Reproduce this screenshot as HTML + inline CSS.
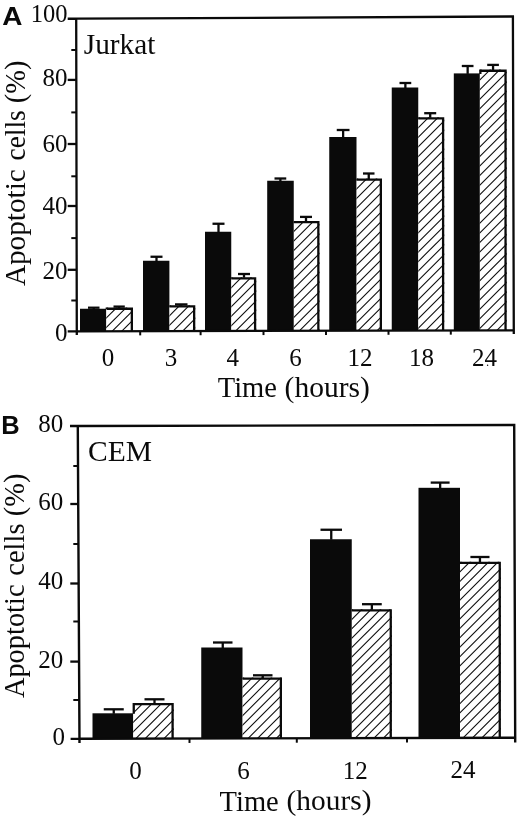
<!DOCTYPE html>
<html><head><meta charset="utf-8"><title>Figure</title>
<style>html,body{margin:0;padding:0;background:#fff}svg{display:block}</style></head>
<body>
<svg width="520" height="818" viewBox="0 0 520 818">
<rect width="520" height="818" fill="#fff"/>
<rect x="80" y="308.75" width="26.25" height="22.48" fill="#0a0a0a"/>
<line x1="88" y1="307.7" x2="99.5" y2="307.7" stroke="#0a0a0a" stroke-width="2.3" stroke-linecap="butt"/>
<line x1="93.75" y1="307.7" x2="93.75" y2="309.25" stroke="#0a0a0a" stroke-width="2.3" stroke-linecap="butt"/>
<clipPath id="c1"><rect x="106.25" y="307.6" width="26.75" height="23.63"/></clipPath>
<g clip-path="url(#c1)">
<rect x="106.25" y="307.6" width="26.75" height="23.63" fill="#fff"/>
<line x1="104.25" y1="291.40" x2="135.00" y2="260.65" stroke="#0a0a0a" stroke-width="1.08"/>
<line x1="104.25" y1="300.95" x2="135.00" y2="270.20" stroke="#0a0a0a" stroke-width="1.08"/>
<line x1="104.25" y1="310.50" x2="135.00" y2="279.75" stroke="#0a0a0a" stroke-width="1.08"/>
<line x1="104.25" y1="320.05" x2="135.00" y2="289.30" stroke="#0a0a0a" stroke-width="1.08"/>
<line x1="104.25" y1="329.60" x2="135.00" y2="298.85" stroke="#0a0a0a" stroke-width="1.08"/>
<line x1="104.25" y1="339.15" x2="135.00" y2="308.40" stroke="#0a0a0a" stroke-width="1.08"/>
<line x1="104.25" y1="348.70" x2="135.00" y2="317.95" stroke="#0a0a0a" stroke-width="1.08"/>
<line x1="104.25" y1="358.25" x2="135.00" y2="327.50" stroke="#0a0a0a" stroke-width="1.08"/>
<line x1="104.25" y1="367.80" x2="135.00" y2="337.05" stroke="#0a0a0a" stroke-width="1.08"/>
</g>
<path d="M106.80 309.25 V308.75 H131.85 V331.23113703957904" fill="none" stroke="#0a0a0a" stroke-width="2.3"/>
<line x1="113.5" y1="306.6" x2="124.8" y2="306.6" stroke="#0a0a0a" stroke-width="2.3" stroke-linecap="butt"/>
<line x1="119.15" y1="306.6" x2="119.15" y2="308.1" stroke="#0a0a0a" stroke-width="2.3" stroke-linecap="butt"/>
<rect x="143" y="260.75" width="26.40" height="70.34" fill="#0a0a0a"/>
<line x1="150.5" y1="256.75" x2="162.5" y2="256.75" stroke="#0a0a0a" stroke-width="2.3" stroke-linecap="butt"/>
<line x1="156.5" y1="256.75" x2="156.5" y2="261.25" stroke="#0a0a0a" stroke-width="2.3" stroke-linecap="butt"/>
<clipPath id="c2"><rect x="169.4" y="305.3" width="25.90" height="25.79"/></clipPath>
<g clip-path="url(#c2)">
<rect x="169.4" y="305.3" width="25.90" height="25.79" fill="#fff"/>
<line x1="167.40" y1="289.10" x2="197.30" y2="259.20" stroke="#0a0a0a" stroke-width="1.08"/>
<line x1="167.40" y1="298.65" x2="197.30" y2="268.75" stroke="#0a0a0a" stroke-width="1.08"/>
<line x1="167.40" y1="308.20" x2="197.30" y2="278.30" stroke="#0a0a0a" stroke-width="1.08"/>
<line x1="167.40" y1="317.75" x2="197.30" y2="287.85" stroke="#0a0a0a" stroke-width="1.08"/>
<line x1="167.40" y1="327.30" x2="197.30" y2="297.40" stroke="#0a0a0a" stroke-width="1.08"/>
<line x1="167.40" y1="336.85" x2="197.30" y2="306.95" stroke="#0a0a0a" stroke-width="1.08"/>
<line x1="167.40" y1="346.40" x2="197.30" y2="316.50" stroke="#0a0a0a" stroke-width="1.08"/>
<line x1="167.40" y1="355.95" x2="197.30" y2="326.05" stroke="#0a0a0a" stroke-width="1.08"/>
<line x1="167.40" y1="365.50" x2="197.30" y2="335.60" stroke="#0a0a0a" stroke-width="1.08"/>
</g>
<path d="M169.4 306.45 H194.15 V331.08780599405173" fill="none" stroke="#0a0a0a" stroke-width="2.3"/>
<line x1="175" y1="304.4" x2="187.5" y2="304.4" stroke="#0a0a0a" stroke-width="2.3" stroke-linecap="butt"/>
<line x1="181.25" y1="304.4" x2="181.25" y2="305.8" stroke="#0a0a0a" stroke-width="2.3" stroke-linecap="butt"/>
<rect x="205" y="231.75" width="26.25" height="99.20" fill="#0a0a0a"/>
<line x1="212.5" y1="223.75" x2="224.5" y2="223.75" stroke="#0a0a0a" stroke-width="2.3" stroke-linecap="butt"/>
<line x1="218.5" y1="223.75" x2="218.5" y2="232.25" stroke="#0a0a0a" stroke-width="2.3" stroke-linecap="butt"/>
<clipPath id="c3"><rect x="231.25" y="277.2" width="25.00" height="53.75"/></clipPath>
<g clip-path="url(#c3)">
<rect x="231.25" y="277.2" width="25.00" height="53.75" fill="#fff"/>
<line x1="229.25" y1="261.00" x2="258.25" y2="232.00" stroke="#0a0a0a" stroke-width="1.08"/>
<line x1="229.25" y1="270.55" x2="258.25" y2="241.55" stroke="#0a0a0a" stroke-width="1.08"/>
<line x1="229.25" y1="280.10" x2="258.25" y2="251.10" stroke="#0a0a0a" stroke-width="1.08"/>
<line x1="229.25" y1="289.65" x2="258.25" y2="260.65" stroke="#0a0a0a" stroke-width="1.08"/>
<line x1="229.25" y1="299.20" x2="258.25" y2="270.20" stroke="#0a0a0a" stroke-width="1.08"/>
<line x1="229.25" y1="308.75" x2="258.25" y2="279.75" stroke="#0a0a0a" stroke-width="1.08"/>
<line x1="229.25" y1="318.30" x2="258.25" y2="289.30" stroke="#0a0a0a" stroke-width="1.08"/>
<line x1="229.25" y1="327.85" x2="258.25" y2="298.85" stroke="#0a0a0a" stroke-width="1.08"/>
<line x1="229.25" y1="337.40" x2="258.25" y2="308.40" stroke="#0a0a0a" stroke-width="1.08"/>
<line x1="229.25" y1="346.95" x2="258.25" y2="317.95" stroke="#0a0a0a" stroke-width="1.08"/>
<line x1="229.25" y1="356.50" x2="258.25" y2="327.50" stroke="#0a0a0a" stroke-width="1.08"/>
<line x1="229.25" y1="366.05" x2="258.25" y2="337.05" stroke="#0a0a0a" stroke-width="1.08"/>
</g>
<path d="M231.25 278.34999999999997 H255.1 V330.9471631205674" fill="none" stroke="#0a0a0a" stroke-width="2.3"/>
<line x1="238" y1="274" x2="250" y2="274" stroke="#0a0a0a" stroke-width="2.3" stroke-linecap="butt"/>
<line x1="244.0" y1="274" x2="244.0" y2="277.7" stroke="#0a0a0a" stroke-width="2.3" stroke-linecap="butt"/>
<rect x="267.2" y="180.75" width="26.55" height="150.05" fill="#0a0a0a"/>
<line x1="274.5" y1="178.5" x2="286.25" y2="178.5" stroke="#0a0a0a" stroke-width="2.3" stroke-linecap="butt"/>
<line x1="280.375" y1="178.5" x2="280.375" y2="181.25" stroke="#0a0a0a" stroke-width="2.3" stroke-linecap="butt"/>
<clipPath id="c4"><rect x="293.75" y="221.0" width="25.75" height="109.80"/></clipPath>
<g clip-path="url(#c4)">
<rect x="293.75" y="221.0" width="25.75" height="109.80" fill="#fff"/>
<line x1="291.75" y1="204.80" x2="321.50" y2="175.05" stroke="#0a0a0a" stroke-width="1.08"/>
<line x1="291.75" y1="214.35" x2="321.50" y2="184.60" stroke="#0a0a0a" stroke-width="1.08"/>
<line x1="291.75" y1="223.90" x2="321.50" y2="194.15" stroke="#0a0a0a" stroke-width="1.08"/>
<line x1="291.75" y1="233.45" x2="321.50" y2="203.70" stroke="#0a0a0a" stroke-width="1.08"/>
<line x1="291.75" y1="243.00" x2="321.50" y2="213.25" stroke="#0a0a0a" stroke-width="1.08"/>
<line x1="291.75" y1="252.55" x2="321.50" y2="222.80" stroke="#0a0a0a" stroke-width="1.08"/>
<line x1="291.75" y1="262.10" x2="321.50" y2="232.35" stroke="#0a0a0a" stroke-width="1.08"/>
<line x1="291.75" y1="271.65" x2="321.50" y2="241.90" stroke="#0a0a0a" stroke-width="1.08"/>
<line x1="291.75" y1="281.20" x2="321.50" y2="251.45" stroke="#0a0a0a" stroke-width="1.08"/>
<line x1="291.75" y1="290.75" x2="321.50" y2="261.00" stroke="#0a0a0a" stroke-width="1.08"/>
<line x1="291.75" y1="300.30" x2="321.50" y2="270.55" stroke="#0a0a0a" stroke-width="1.08"/>
<line x1="291.75" y1="309.85" x2="321.50" y2="280.10" stroke="#0a0a0a" stroke-width="1.08"/>
<line x1="291.75" y1="319.40" x2="321.50" y2="289.65" stroke="#0a0a0a" stroke-width="1.08"/>
<line x1="291.75" y1="328.95" x2="321.50" y2="299.20" stroke="#0a0a0a" stroke-width="1.08"/>
<line x1="291.75" y1="338.50" x2="321.50" y2="308.75" stroke="#0a0a0a" stroke-width="1.08"/>
<line x1="291.75" y1="348.05" x2="321.50" y2="318.30" stroke="#0a0a0a" stroke-width="1.08"/>
<line x1="291.75" y1="357.60" x2="321.50" y2="327.85" stroke="#0a0a0a" stroke-width="1.08"/>
<line x1="291.75" y1="367.15" x2="321.50" y2="337.40" stroke="#0a0a0a" stroke-width="1.08"/>
</g>
<path d="M293.75 222.15 H318.35 V330.80366048959047" fill="none" stroke="#0a0a0a" stroke-width="2.3"/>
<line x1="300" y1="216.9" x2="312" y2="216.9" stroke="#0a0a0a" stroke-width="2.3" stroke-linecap="butt"/>
<line x1="306.0" y1="216.9" x2="306.0" y2="221.5" stroke="#0a0a0a" stroke-width="2.3" stroke-linecap="butt"/>
<rect x="329.25" y="137" width="27.25" height="193.66" fill="#0a0a0a"/>
<line x1="336.75" y1="130" x2="349.5" y2="130" stroke="#0a0a0a" stroke-width="2.3" stroke-linecap="butt"/>
<line x1="343.125" y1="130" x2="343.125" y2="137.5" stroke="#0a0a0a" stroke-width="2.3" stroke-linecap="butt"/>
<clipPath id="c5"><rect x="356.5" y="178.5" width="25.50" height="152.16"/></clipPath>
<g clip-path="url(#c5)">
<rect x="356.5" y="178.5" width="25.50" height="152.16" fill="#fff"/>
<line x1="354.50" y1="162.30" x2="384.00" y2="132.80" stroke="#0a0a0a" stroke-width="1.08"/>
<line x1="354.50" y1="171.85" x2="384.00" y2="142.35" stroke="#0a0a0a" stroke-width="1.08"/>
<line x1="354.50" y1="181.40" x2="384.00" y2="151.90" stroke="#0a0a0a" stroke-width="1.08"/>
<line x1="354.50" y1="190.95" x2="384.00" y2="161.45" stroke="#0a0a0a" stroke-width="1.08"/>
<line x1="354.50" y1="200.50" x2="384.00" y2="171.00" stroke="#0a0a0a" stroke-width="1.08"/>
<line x1="354.50" y1="210.05" x2="384.00" y2="180.55" stroke="#0a0a0a" stroke-width="1.08"/>
<line x1="354.50" y1="219.60" x2="384.00" y2="190.10" stroke="#0a0a0a" stroke-width="1.08"/>
<line x1="354.50" y1="229.15" x2="384.00" y2="199.65" stroke="#0a0a0a" stroke-width="1.08"/>
<line x1="354.50" y1="238.70" x2="384.00" y2="209.20" stroke="#0a0a0a" stroke-width="1.08"/>
<line x1="354.50" y1="248.25" x2="384.00" y2="218.75" stroke="#0a0a0a" stroke-width="1.08"/>
<line x1="354.50" y1="257.80" x2="384.00" y2="228.30" stroke="#0a0a0a" stroke-width="1.08"/>
<line x1="354.50" y1="267.35" x2="384.00" y2="237.85" stroke="#0a0a0a" stroke-width="1.08"/>
<line x1="354.50" y1="276.90" x2="384.00" y2="247.40" stroke="#0a0a0a" stroke-width="1.08"/>
<line x1="354.50" y1="286.45" x2="384.00" y2="256.95" stroke="#0a0a0a" stroke-width="1.08"/>
<line x1="354.50" y1="296.00" x2="384.00" y2="266.50" stroke="#0a0a0a" stroke-width="1.08"/>
<line x1="354.50" y1="305.55" x2="384.00" y2="276.05" stroke="#0a0a0a" stroke-width="1.08"/>
<line x1="354.50" y1="315.10" x2="384.00" y2="285.60" stroke="#0a0a0a" stroke-width="1.08"/>
<line x1="354.50" y1="324.65" x2="384.00" y2="295.15" stroke="#0a0a0a" stroke-width="1.08"/>
<line x1="354.50" y1="334.20" x2="384.00" y2="304.70" stroke="#0a0a0a" stroke-width="1.08"/>
<line x1="354.50" y1="343.75" x2="384.00" y2="314.25" stroke="#0a0a0a" stroke-width="1.08"/>
<line x1="354.50" y1="353.30" x2="384.00" y2="323.80" stroke="#0a0a0a" stroke-width="1.08"/>
<line x1="354.50" y1="362.85" x2="384.00" y2="333.35" stroke="#0a0a0a" stroke-width="1.08"/>
</g>
<path d="M356.5 179.65 H380.85 V330.6611873713109" fill="none" stroke="#0a0a0a" stroke-width="2.3"/>
<line x1="363" y1="173.5" x2="374.5" y2="173.5" stroke="#0a0a0a" stroke-width="2.3" stroke-linecap="butt"/>
<line x1="368.75" y1="173.5" x2="368.75" y2="179.0" stroke="#0a0a0a" stroke-width="2.3" stroke-linecap="butt"/>
<rect x="391.75" y="87.5" width="26.50" height="243.02" fill="#0a0a0a"/>
<line x1="399.5" y1="83" x2="411.25" y2="83" stroke="#0a0a0a" stroke-width="2.3" stroke-linecap="butt"/>
<line x1="405.375" y1="83" x2="405.375" y2="88.0" stroke="#0a0a0a" stroke-width="2.3" stroke-linecap="butt"/>
<clipPath id="c6"><rect x="418.25" y="117.3" width="26.00" height="213.22"/></clipPath>
<g clip-path="url(#c6)">
<rect x="418.25" y="117.3" width="26.00" height="213.22" fill="#fff"/>
<line x1="416.25" y1="101.10" x2="446.25" y2="71.10" stroke="#0a0a0a" stroke-width="1.08"/>
<line x1="416.25" y1="110.65" x2="446.25" y2="80.65" stroke="#0a0a0a" stroke-width="1.08"/>
<line x1="416.25" y1="120.20" x2="446.25" y2="90.20" stroke="#0a0a0a" stroke-width="1.08"/>
<line x1="416.25" y1="129.75" x2="446.25" y2="99.75" stroke="#0a0a0a" stroke-width="1.08"/>
<line x1="416.25" y1="139.30" x2="446.25" y2="109.30" stroke="#0a0a0a" stroke-width="1.08"/>
<line x1="416.25" y1="148.85" x2="446.25" y2="118.85" stroke="#0a0a0a" stroke-width="1.08"/>
<line x1="416.25" y1="158.40" x2="446.25" y2="128.40" stroke="#0a0a0a" stroke-width="1.08"/>
<line x1="416.25" y1="167.95" x2="446.25" y2="137.95" stroke="#0a0a0a" stroke-width="1.08"/>
<line x1="416.25" y1="177.50" x2="446.25" y2="147.50" stroke="#0a0a0a" stroke-width="1.08"/>
<line x1="416.25" y1="187.05" x2="446.25" y2="157.05" stroke="#0a0a0a" stroke-width="1.08"/>
<line x1="416.25" y1="196.60" x2="446.25" y2="166.60" stroke="#0a0a0a" stroke-width="1.08"/>
<line x1="416.25" y1="206.15" x2="446.25" y2="176.15" stroke="#0a0a0a" stroke-width="1.08"/>
<line x1="416.25" y1="215.70" x2="446.25" y2="185.70" stroke="#0a0a0a" stroke-width="1.08"/>
<line x1="416.25" y1="225.25" x2="446.25" y2="195.25" stroke="#0a0a0a" stroke-width="1.08"/>
<line x1="416.25" y1="234.80" x2="446.25" y2="204.80" stroke="#0a0a0a" stroke-width="1.08"/>
<line x1="416.25" y1="244.35" x2="446.25" y2="214.35" stroke="#0a0a0a" stroke-width="1.08"/>
<line x1="416.25" y1="253.90" x2="446.25" y2="223.90" stroke="#0a0a0a" stroke-width="1.08"/>
<line x1="416.25" y1="263.45" x2="446.25" y2="233.45" stroke="#0a0a0a" stroke-width="1.08"/>
<line x1="416.25" y1="273.00" x2="446.25" y2="243.00" stroke="#0a0a0a" stroke-width="1.08"/>
<line x1="416.25" y1="282.55" x2="446.25" y2="252.55" stroke="#0a0a0a" stroke-width="1.08"/>
<line x1="416.25" y1="292.10" x2="446.25" y2="262.10" stroke="#0a0a0a" stroke-width="1.08"/>
<line x1="416.25" y1="301.65" x2="446.25" y2="271.65" stroke="#0a0a0a" stroke-width="1.08"/>
<line x1="416.25" y1="311.20" x2="446.25" y2="281.20" stroke="#0a0a0a" stroke-width="1.08"/>
<line x1="416.25" y1="320.75" x2="446.25" y2="290.75" stroke="#0a0a0a" stroke-width="1.08"/>
<line x1="416.25" y1="330.30" x2="446.25" y2="300.30" stroke="#0a0a0a" stroke-width="1.08"/>
<line x1="416.25" y1="339.85" x2="446.25" y2="309.85" stroke="#0a0a0a" stroke-width="1.08"/>
<line x1="416.25" y1="349.40" x2="446.25" y2="319.40" stroke="#0a0a0a" stroke-width="1.08"/>
<line x1="416.25" y1="358.95" x2="446.25" y2="328.95" stroke="#0a0a0a" stroke-width="1.08"/>
</g>
<path d="M418.25 118.45 H443.1 V330.51848547243196" fill="none" stroke="#0a0a0a" stroke-width="2.3"/>
<line x1="424.2" y1="113.2" x2="436.2" y2="113.2" stroke="#0a0a0a" stroke-width="2.3" stroke-linecap="butt"/>
<line x1="430.2" y1="113.2" x2="430.2" y2="117.8" stroke="#0a0a0a" stroke-width="2.3" stroke-linecap="butt"/>
<rect x="453.8" y="73.4" width="26.00" height="256.98" fill="#0a0a0a"/>
<line x1="461.8" y1="66" x2="473.5" y2="66" stroke="#0a0a0a" stroke-width="2.3" stroke-linecap="butt"/>
<line x1="467.65" y1="66" x2="467.65" y2="73.9" stroke="#0a0a0a" stroke-width="2.3" stroke-linecap="butt"/>
<clipPath id="c7"><rect x="479.8" y="69.6" width="26.90" height="260.78"/></clipPath>
<g clip-path="url(#c7)">
<rect x="479.8" y="69.6" width="26.90" height="260.78" fill="#fff"/>
<line x1="477.80" y1="53.40" x2="508.70" y2="22.50" stroke="#0a0a0a" stroke-width="1.08"/>
<line x1="477.80" y1="62.95" x2="508.70" y2="32.05" stroke="#0a0a0a" stroke-width="1.08"/>
<line x1="477.80" y1="72.50" x2="508.70" y2="41.60" stroke="#0a0a0a" stroke-width="1.08"/>
<line x1="477.80" y1="82.05" x2="508.70" y2="51.15" stroke="#0a0a0a" stroke-width="1.08"/>
<line x1="477.80" y1="91.60" x2="508.70" y2="60.70" stroke="#0a0a0a" stroke-width="1.08"/>
<line x1="477.80" y1="101.15" x2="508.70" y2="70.25" stroke="#0a0a0a" stroke-width="1.08"/>
<line x1="477.80" y1="110.70" x2="508.70" y2="79.80" stroke="#0a0a0a" stroke-width="1.08"/>
<line x1="477.80" y1="120.25" x2="508.70" y2="89.35" stroke="#0a0a0a" stroke-width="1.08"/>
<line x1="477.80" y1="129.80" x2="508.70" y2="98.90" stroke="#0a0a0a" stroke-width="1.08"/>
<line x1="477.80" y1="139.35" x2="508.70" y2="108.45" stroke="#0a0a0a" stroke-width="1.08"/>
<line x1="477.80" y1="148.90" x2="508.70" y2="118.00" stroke="#0a0a0a" stroke-width="1.08"/>
<line x1="477.80" y1="158.45" x2="508.70" y2="127.55" stroke="#0a0a0a" stroke-width="1.08"/>
<line x1="477.80" y1="168.00" x2="508.70" y2="137.10" stroke="#0a0a0a" stroke-width="1.08"/>
<line x1="477.80" y1="177.55" x2="508.70" y2="146.65" stroke="#0a0a0a" stroke-width="1.08"/>
<line x1="477.80" y1="187.10" x2="508.70" y2="156.20" stroke="#0a0a0a" stroke-width="1.08"/>
<line x1="477.80" y1="196.65" x2="508.70" y2="165.75" stroke="#0a0a0a" stroke-width="1.08"/>
<line x1="477.80" y1="206.20" x2="508.70" y2="175.30" stroke="#0a0a0a" stroke-width="1.08"/>
<line x1="477.80" y1="215.75" x2="508.70" y2="184.85" stroke="#0a0a0a" stroke-width="1.08"/>
<line x1="477.80" y1="225.30" x2="508.70" y2="194.40" stroke="#0a0a0a" stroke-width="1.08"/>
<line x1="477.80" y1="234.85" x2="508.70" y2="203.95" stroke="#0a0a0a" stroke-width="1.08"/>
<line x1="477.80" y1="244.40" x2="508.70" y2="213.50" stroke="#0a0a0a" stroke-width="1.08"/>
<line x1="477.80" y1="253.95" x2="508.70" y2="223.05" stroke="#0a0a0a" stroke-width="1.08"/>
<line x1="477.80" y1="263.50" x2="508.70" y2="232.60" stroke="#0a0a0a" stroke-width="1.08"/>
<line x1="477.80" y1="273.05" x2="508.70" y2="242.15" stroke="#0a0a0a" stroke-width="1.08"/>
<line x1="477.80" y1="282.60" x2="508.70" y2="251.70" stroke="#0a0a0a" stroke-width="1.08"/>
<line x1="477.80" y1="292.15" x2="508.70" y2="261.25" stroke="#0a0a0a" stroke-width="1.08"/>
<line x1="477.80" y1="301.70" x2="508.70" y2="270.80" stroke="#0a0a0a" stroke-width="1.08"/>
<line x1="477.80" y1="311.25" x2="508.70" y2="280.35" stroke="#0a0a0a" stroke-width="1.08"/>
<line x1="477.80" y1="320.80" x2="508.70" y2="289.90" stroke="#0a0a0a" stroke-width="1.08"/>
<line x1="477.80" y1="330.35" x2="508.70" y2="299.45" stroke="#0a0a0a" stroke-width="1.08"/>
<line x1="477.80" y1="339.90" x2="508.70" y2="309.00" stroke="#0a0a0a" stroke-width="1.08"/>
<line x1="477.80" y1="349.45" x2="508.70" y2="318.55" stroke="#0a0a0a" stroke-width="1.08"/>
<line x1="477.80" y1="359.00" x2="508.70" y2="328.10" stroke="#0a0a0a" stroke-width="1.08"/>
<line x1="477.80" y1="368.55" x2="508.70" y2="337.65" stroke="#0a0a0a" stroke-width="1.08"/>
</g>
<path d="M480.35 73.90 V70.75 H505.55 V330.37606954930226" fill="none" stroke="#0a0a0a" stroke-width="2.3"/>
<line x1="487.2" y1="64.9" x2="498.9" y2="64.9" stroke="#0a0a0a" stroke-width="2.3" stroke-linecap="butt"/>
<line x1="493.04999999999995" y1="64.9" x2="493.04999999999995" y2="70.1" stroke="#0a0a0a" stroke-width="2.3" stroke-linecap="butt"/>
<path d="M67.7 18.75 L76.8 18.7 L512.9 16.5 L513.8 334 M67.7 331.35 L76.8 331.3 L513.8 330.3 M76.2 18.7 L76.8 335" fill="none" stroke="#0a0a0a" stroke-width="2.3"/>
<line x1="67.7" y1="79.9" x2="76.6" y2="79.9" stroke="#0a0a0a" stroke-width="2.3" stroke-linecap="butt"/>
<line x1="67.7" y1="144.0" x2="76.6" y2="144.0" stroke="#0a0a0a" stroke-width="2.3" stroke-linecap="butt"/>
<line x1="67.7" y1="206.0" x2="76.6" y2="206.0" stroke="#0a0a0a" stroke-width="2.3" stroke-linecap="butt"/>
<line x1="67.7" y1="269.8" x2="76.6" y2="269.8" stroke="#0a0a0a" stroke-width="2.3" stroke-linecap="butt"/>
<line x1="71.3" y1="50" x2="76.6" y2="50" stroke="#0a0a0a" stroke-width="2.0" stroke-linecap="butt"/>
<line x1="71.3" y1="112.4" x2="76.6" y2="112.4" stroke="#0a0a0a" stroke-width="2.0" stroke-linecap="butt"/>
<line x1="71.3" y1="176.3" x2="76.6" y2="176.3" stroke="#0a0a0a" stroke-width="2.0" stroke-linecap="butt"/>
<line x1="71.3" y1="238.1" x2="76.6" y2="238.1" stroke="#0a0a0a" stroke-width="2.0" stroke-linecap="butt"/>
<line x1="71.3" y1="300.5" x2="76.6" y2="300.5" stroke="#0a0a0a" stroke-width="2.0" stroke-linecap="butt"/>
<line x1="140.2" y1="331.1540379775795" x2="140.2" y2="335.3540379775795" stroke="#0a0a0a" stroke-width="2.0" stroke-linecap="butt"/>
<line x1="200.6" y1="331.0158544955388" x2="200.6" y2="335.2158544955388" stroke="#0a0a0a" stroke-width="2.0" stroke-linecap="butt"/>
<line x1="263.5" y1="330.87195149851294" x2="263.5" y2="335.07195149851293" stroke="#0a0a0a" stroke-width="2.0" stroke-linecap="butt"/>
<line x1="326" y1="330.7289636238847" x2="326" y2="334.92896362388467" stroke="#0a0a0a" stroke-width="2.0" stroke-linecap="butt"/>
<line x1="388.5" y1="330.5859757492565" x2="388.5" y2="334.78597574925647" stroke="#0a0a0a" stroke-width="2.0" stroke-linecap="butt"/>
<line x1="450.8" y1="330.4434454358271" x2="450.8" y2="334.64344543582706" stroke="#0a0a0a" stroke-width="2.0" stroke-linecap="butt"/>
<text x="67.6" y="22.4" font-size="24.5" text-anchor="end" font-family='"Liberation Serif", serif' font-weight="normal" fill="#0a0a0a" >100</text>
<text x="67.6" y="85.7" font-size="25" text-anchor="end" font-family='"Liberation Serif", serif' font-weight="normal" fill="#0a0a0a" >80</text>
<text x="67.6" y="151.5" font-size="25" text-anchor="end" font-family='"Liberation Serif", serif' font-weight="normal" fill="#0a0a0a" >60</text>
<text x="67.6" y="214.2" font-size="25" text-anchor="end" font-family='"Liberation Serif", serif' font-weight="normal" fill="#0a0a0a" >40</text>
<text x="67.6" y="278.5" font-size="25" text-anchor="end" font-family='"Liberation Serif", serif' font-weight="normal" fill="#0a0a0a" >20</text>
<text x="67.6" y="341.2" font-size="25" text-anchor="end" font-family='"Liberation Serif", serif' font-weight="normal" fill="#0a0a0a" >0</text>
<text x="108.1" y="366.3" font-size="25" text-anchor="middle" font-family='"Liberation Serif", serif' font-weight="normal" fill="#0a0a0a" >0</text>
<text x="171" y="366.2" font-size="25" text-anchor="middle" font-family='"Liberation Serif", serif' font-weight="normal" fill="#0a0a0a" >3</text>
<text x="232.7" y="366.1" font-size="25" text-anchor="middle" font-family='"Liberation Serif", serif' font-weight="normal" fill="#0a0a0a" >4</text>
<text x="295.4" y="366.2" font-size="25" text-anchor="middle" font-family='"Liberation Serif", serif' font-weight="normal" fill="#0a0a0a" >6</text>
<text x="360" y="366.2" font-size="25" text-anchor="middle" font-family='"Liberation Serif", serif' font-weight="normal" fill="#0a0a0a" >12</text>
<text x="421.4" y="366.1" font-size="25" text-anchor="middle" font-family='"Liberation Serif", serif' font-weight="normal" fill="#0a0a0a" >18</text>
<text x="484.6" y="365.6" font-size="25" text-anchor="middle" font-family='"Liberation Serif", serif' font-weight="normal" fill="#0a0a0a" >24</text>
<circle cx="487.6" cy="365.2" r="0.7" fill="#0a0a0a"/>
<text x="83.8" y="53.8" font-size="28.5" text-anchor="start" font-family='"Liberation Serif", serif' font-weight="normal" fill="#0a0a0a" textLength="71.6" lengthAdjust="spacingAndGlyphs">Jurkat</text>
<text x="217.8" y="397.1" font-size="28.5" text-anchor="start" font-family='"Liberation Serif", serif' font-weight="normal" fill="#0a0a0a" >Time</text>
<text x="284.6" y="397.0" font-size="28.5" text-anchor="start" font-family='"Liberation Serif", serif' font-weight="normal" fill="#0a0a0a" textLength="85.2" lengthAdjust="spacingAndGlyphs">(hours)</text>
<g transform="translate(24.8 286.1) rotate(-90)" font-size="28.5" font-family='"Liberation Serif", serif' fill="#0a0a0a">
<text x="0" y="0" textLength="116.9" lengthAdjust="spacingAndGlyphs">Apoptotic</text>
<text x="125.7" y="0" textLength="50.0" lengthAdjust="spacingAndGlyphs">cells</text>
<text x="182.8" y="0">(%)</text>
</g>
<text x="2.2" y="24.6" font-size="26" text-anchor="start" font-family='"Liberation Sans", sans-serif' font-weight="bold" fill="#0a0a0a" textLength="20.2" lengthAdjust="spacingAndGlyphs">A</text>
<rect x="92.5" y="713.3" width="40.70" height="25.38" fill="#0a0a0a"/>
<line x1="103.75" y1="709.3" x2="123.75" y2="709.3" stroke="#0a0a0a" stroke-width="2.3" stroke-linecap="butt"/>
<line x1="113.75" y1="709.3" x2="113.75" y2="713.8" stroke="#0a0a0a" stroke-width="2.3" stroke-linecap="butt"/>
<clipPath id="c8"><rect x="133.2" y="702.9" width="40.55" height="35.78"/></clipPath>
<g clip-path="url(#c8)">
<rect x="133.2" y="702.9" width="40.55" height="35.78" fill="#fff"/>
<line x1="131.20" y1="686.80" x2="175.75" y2="642.25" stroke="#0a0a0a" stroke-width="1.08"/>
<line x1="131.20" y1="696.20" x2="175.75" y2="651.65" stroke="#0a0a0a" stroke-width="1.08"/>
<line x1="131.20" y1="705.60" x2="175.75" y2="661.05" stroke="#0a0a0a" stroke-width="1.08"/>
<line x1="131.20" y1="715.00" x2="175.75" y2="670.45" stroke="#0a0a0a" stroke-width="1.08"/>
<line x1="131.20" y1="724.40" x2="175.75" y2="679.85" stroke="#0a0a0a" stroke-width="1.08"/>
<line x1="131.20" y1="733.80" x2="175.75" y2="689.25" stroke="#0a0a0a" stroke-width="1.08"/>
<line x1="131.20" y1="743.20" x2="175.75" y2="698.65" stroke="#0a0a0a" stroke-width="1.08"/>
<line x1="131.20" y1="752.60" x2="175.75" y2="708.05" stroke="#0a0a0a" stroke-width="1.08"/>
<line x1="131.20" y1="762.00" x2="175.75" y2="717.45" stroke="#0a0a0a" stroke-width="1.08"/>
<line x1="131.20" y1="771.40" x2="175.75" y2="726.85" stroke="#0a0a0a" stroke-width="1.08"/>
<line x1="131.20" y1="780.80" x2="175.75" y2="736.25" stroke="#0a0a0a" stroke-width="1.08"/>
<line x1="131.20" y1="790.20" x2="175.75" y2="745.65" stroke="#0a0a0a" stroke-width="1.08"/>
</g>
<path d="M133.75 713.80 V704.05 H172.6 V738.6769221941703" fill="none" stroke="#0a0a0a" stroke-width="2.3"/>
<line x1="144.5" y1="699.3" x2="164.5" y2="699.3" stroke="#0a0a0a" stroke-width="2.3" stroke-linecap="butt"/>
<line x1="154.5" y1="699.3" x2="154.5" y2="703.4" stroke="#0a0a0a" stroke-width="2.3" stroke-linecap="butt"/>
<rect x="201.25" y="647.5" width="41.25" height="90.93" fill="#0a0a0a"/>
<line x1="213" y1="642.5" x2="232.5" y2="642.5" stroke="#0a0a0a" stroke-width="2.3" stroke-linecap="butt"/>
<line x1="222.75" y1="642.5" x2="222.75" y2="648.0" stroke="#0a0a0a" stroke-width="2.3" stroke-linecap="butt"/>
<clipPath id="c9"><rect x="242.5" y="677.5" width="39.50" height="60.93"/></clipPath>
<g clip-path="url(#c9)">
<rect x="242.5" y="677.5" width="39.50" height="60.93" fill="#fff"/>
<line x1="240.50" y1="661.40" x2="284.00" y2="617.90" stroke="#0a0a0a" stroke-width="1.08"/>
<line x1="240.50" y1="670.80" x2="284.00" y2="627.30" stroke="#0a0a0a" stroke-width="1.08"/>
<line x1="240.50" y1="680.20" x2="284.00" y2="636.70" stroke="#0a0a0a" stroke-width="1.08"/>
<line x1="240.50" y1="689.60" x2="284.00" y2="646.10" stroke="#0a0a0a" stroke-width="1.08"/>
<line x1="240.50" y1="699.00" x2="284.00" y2="655.50" stroke="#0a0a0a" stroke-width="1.08"/>
<line x1="240.50" y1="708.40" x2="284.00" y2="664.90" stroke="#0a0a0a" stroke-width="1.08"/>
<line x1="240.50" y1="717.80" x2="284.00" y2="674.30" stroke="#0a0a0a" stroke-width="1.08"/>
<line x1="240.50" y1="727.20" x2="284.00" y2="683.70" stroke="#0a0a0a" stroke-width="1.08"/>
<line x1="240.50" y1="736.60" x2="284.00" y2="693.10" stroke="#0a0a0a" stroke-width="1.08"/>
<line x1="240.50" y1="746.00" x2="284.00" y2="702.50" stroke="#0a0a0a" stroke-width="1.08"/>
<line x1="240.50" y1="755.40" x2="284.00" y2="711.90" stroke="#0a0a0a" stroke-width="1.08"/>
<line x1="240.50" y1="764.80" x2="284.00" y2="721.30" stroke="#0a0a0a" stroke-width="1.08"/>
<line x1="240.50" y1="774.20" x2="284.00" y2="730.70" stroke="#0a0a0a" stroke-width="1.08"/>
<line x1="240.50" y1="783.60" x2="284.00" y2="740.10" stroke="#0a0a0a" stroke-width="1.08"/>
</g>
<path d="M242.5 678.65 H280.85 V738.4278976359881" fill="none" stroke="#0a0a0a" stroke-width="2.3"/>
<line x1="253" y1="675.3" x2="272.5" y2="675.3" stroke="#0a0a0a" stroke-width="2.3" stroke-linecap="butt"/>
<line x1="262.75" y1="675.3" x2="262.75" y2="678.0" stroke="#0a0a0a" stroke-width="2.3" stroke-linecap="butt"/>
<rect x="310" y="539.25" width="41.75" height="198.93" fill="#0a0a0a"/>
<line x1="320.5" y1="529.75" x2="342" y2="529.75" stroke="#0a0a0a" stroke-width="2.3" stroke-linecap="butt"/>
<line x1="331.25" y1="529.75" x2="331.25" y2="539.75" stroke="#0a0a0a" stroke-width="2.3" stroke-linecap="butt"/>
<clipPath id="c10"><rect x="351.75" y="609.3" width="40.15" height="128.88"/></clipPath>
<g clip-path="url(#c10)">
<rect x="351.75" y="609.3" width="40.15" height="128.88" fill="#fff"/>
<line x1="349.75" y1="593.20" x2="393.90" y2="549.05" stroke="#0a0a0a" stroke-width="1.08"/>
<line x1="349.75" y1="602.60" x2="393.90" y2="558.45" stroke="#0a0a0a" stroke-width="1.08"/>
<line x1="349.75" y1="612.00" x2="393.90" y2="567.85" stroke="#0a0a0a" stroke-width="1.08"/>
<line x1="349.75" y1="621.40" x2="393.90" y2="577.25" stroke="#0a0a0a" stroke-width="1.08"/>
<line x1="349.75" y1="630.80" x2="393.90" y2="586.65" stroke="#0a0a0a" stroke-width="1.08"/>
<line x1="349.75" y1="640.20" x2="393.90" y2="596.05" stroke="#0a0a0a" stroke-width="1.08"/>
<line x1="349.75" y1="649.60" x2="393.90" y2="605.45" stroke="#0a0a0a" stroke-width="1.08"/>
<line x1="349.75" y1="659.00" x2="393.90" y2="614.85" stroke="#0a0a0a" stroke-width="1.08"/>
<line x1="349.75" y1="668.40" x2="393.90" y2="624.25" stroke="#0a0a0a" stroke-width="1.08"/>
<line x1="349.75" y1="677.80" x2="393.90" y2="633.65" stroke="#0a0a0a" stroke-width="1.08"/>
<line x1="349.75" y1="687.20" x2="393.90" y2="643.05" stroke="#0a0a0a" stroke-width="1.08"/>
<line x1="349.75" y1="696.60" x2="393.90" y2="652.45" stroke="#0a0a0a" stroke-width="1.08"/>
<line x1="349.75" y1="706.00" x2="393.90" y2="661.85" stroke="#0a0a0a" stroke-width="1.08"/>
<line x1="349.75" y1="715.40" x2="393.90" y2="671.25" stroke="#0a0a0a" stroke-width="1.08"/>
<line x1="349.75" y1="724.80" x2="393.90" y2="680.65" stroke="#0a0a0a" stroke-width="1.08"/>
<line x1="349.75" y1="734.20" x2="393.90" y2="690.05" stroke="#0a0a0a" stroke-width="1.08"/>
<line x1="349.75" y1="743.60" x2="393.90" y2="699.45" stroke="#0a0a0a" stroke-width="1.08"/>
<line x1="349.75" y1="753.00" x2="393.90" y2="708.85" stroke="#0a0a0a" stroke-width="1.08"/>
<line x1="349.75" y1="762.40" x2="393.90" y2="718.25" stroke="#0a0a0a" stroke-width="1.08"/>
<line x1="349.75" y1="771.80" x2="393.90" y2="727.65" stroke="#0a0a0a" stroke-width="1.08"/>
<line x1="349.75" y1="781.20" x2="393.90" y2="737.05" stroke="#0a0a0a" stroke-width="1.08"/>
</g>
<path d="M351.75 610.4499999999999 H390.75 V738.1769795731008" fill="none" stroke="#0a0a0a" stroke-width="2.3"/>
<line x1="362" y1="604.2" x2="381.75" y2="604.2" stroke="#0a0a0a" stroke-width="2.3" stroke-linecap="butt"/>
<line x1="371.875" y1="604.2" x2="371.875" y2="609.8" stroke="#0a0a0a" stroke-width="2.3" stroke-linecap="butt"/>
<rect x="418.5" y="487.8" width="41.50" height="250.13" fill="#0a0a0a"/>
<line x1="430.7" y1="482.6" x2="449.6" y2="482.6" stroke="#0a0a0a" stroke-width="2.3" stroke-linecap="butt"/>
<line x1="440.15" y1="482.6" x2="440.15" y2="488.3" stroke="#0a0a0a" stroke-width="2.3" stroke-linecap="butt"/>
<clipPath id="c11"><rect x="460" y="561.7" width="40.90" height="176.23"/></clipPath>
<g clip-path="url(#c11)">
<rect x="460" y="561.7" width="40.90" height="176.23" fill="#fff"/>
<line x1="458.00" y1="545.60" x2="502.90" y2="500.70" stroke="#0a0a0a" stroke-width="1.08"/>
<line x1="458.00" y1="555.00" x2="502.90" y2="510.10" stroke="#0a0a0a" stroke-width="1.08"/>
<line x1="458.00" y1="564.40" x2="502.90" y2="519.50" stroke="#0a0a0a" stroke-width="1.08"/>
<line x1="458.00" y1="573.80" x2="502.90" y2="528.90" stroke="#0a0a0a" stroke-width="1.08"/>
<line x1="458.00" y1="583.20" x2="502.90" y2="538.30" stroke="#0a0a0a" stroke-width="1.08"/>
<line x1="458.00" y1="592.60" x2="502.90" y2="547.70" stroke="#0a0a0a" stroke-width="1.08"/>
<line x1="458.00" y1="602.00" x2="502.90" y2="557.10" stroke="#0a0a0a" stroke-width="1.08"/>
<line x1="458.00" y1="611.40" x2="502.90" y2="566.50" stroke="#0a0a0a" stroke-width="1.08"/>
<line x1="458.00" y1="620.80" x2="502.90" y2="575.90" stroke="#0a0a0a" stroke-width="1.08"/>
<line x1="458.00" y1="630.20" x2="502.90" y2="585.30" stroke="#0a0a0a" stroke-width="1.08"/>
<line x1="458.00" y1="639.60" x2="502.90" y2="594.70" stroke="#0a0a0a" stroke-width="1.08"/>
<line x1="458.00" y1="649.00" x2="502.90" y2="604.10" stroke="#0a0a0a" stroke-width="1.08"/>
<line x1="458.00" y1="658.40" x2="502.90" y2="613.50" stroke="#0a0a0a" stroke-width="1.08"/>
<line x1="458.00" y1="667.80" x2="502.90" y2="622.90" stroke="#0a0a0a" stroke-width="1.08"/>
<line x1="458.00" y1="677.20" x2="502.90" y2="632.30" stroke="#0a0a0a" stroke-width="1.08"/>
<line x1="458.00" y1="686.60" x2="502.90" y2="641.70" stroke="#0a0a0a" stroke-width="1.08"/>
<line x1="458.00" y1="696.00" x2="502.90" y2="651.10" stroke="#0a0a0a" stroke-width="1.08"/>
<line x1="458.00" y1="705.40" x2="502.90" y2="660.50" stroke="#0a0a0a" stroke-width="1.08"/>
<line x1="458.00" y1="714.80" x2="502.90" y2="669.90" stroke="#0a0a0a" stroke-width="1.08"/>
<line x1="458.00" y1="724.20" x2="502.90" y2="679.30" stroke="#0a0a0a" stroke-width="1.08"/>
<line x1="458.00" y1="733.60" x2="502.90" y2="688.70" stroke="#0a0a0a" stroke-width="1.08"/>
<line x1="458.00" y1="743.00" x2="502.90" y2="698.10" stroke="#0a0a0a" stroke-width="1.08"/>
<line x1="458.00" y1="752.40" x2="502.90" y2="707.50" stroke="#0a0a0a" stroke-width="1.08"/>
<line x1="458.00" y1="761.80" x2="502.90" y2="716.90" stroke="#0a0a0a" stroke-width="1.08"/>
<line x1="458.00" y1="771.20" x2="502.90" y2="726.30" stroke="#0a0a0a" stroke-width="1.08"/>
<line x1="458.00" y1="780.60" x2="502.90" y2="735.70" stroke="#0a0a0a" stroke-width="1.08"/>
<line x1="458.00" y1="790.00" x2="502.90" y2="745.10" stroke="#0a0a0a" stroke-width="1.08"/>
</g>
<path d="M460 562.85 H499.75 V737.9273812256139" fill="none" stroke="#0a0a0a" stroke-width="2.3"/>
<line x1="470.4" y1="557" x2="489.5" y2="557" stroke="#0a0a0a" stroke-width="2.3" stroke-linecap="butt"/>
<line x1="479.95" y1="557" x2="479.95" y2="562.2" stroke="#0a0a0a" stroke-width="2.3" stroke-linecap="butt"/>
<path d="M70 426.05 L77.8 426 L514.2 425 L515.2 742.6 M70.6 738.85 L79.5 738.8 L516.4 737.8 M77.8 426 L79.5 743" fill="none" stroke="#0a0a0a" stroke-width="2.4"/>
<line x1="70.3" y1="504" x2="79" y2="504" stroke="#0a0a0a" stroke-width="2.3" stroke-linecap="butt"/>
<line x1="70.3" y1="583.5" x2="79" y2="583.5" stroke="#0a0a0a" stroke-width="2.3" stroke-linecap="butt"/>
<line x1="70.3" y1="661.6" x2="79" y2="661.6" stroke="#0a0a0a" stroke-width="2.3" stroke-linecap="butt"/>
<line x1="73.3" y1="466" x2="79" y2="466" stroke="#0a0a0a" stroke-width="2.0" stroke-linecap="butt"/>
<line x1="73.3" y1="544" x2="79" y2="544" stroke="#0a0a0a" stroke-width="2.0" stroke-linecap="butt"/>
<line x1="73.3" y1="621.5" x2="79" y2="621.5" stroke="#0a0a0a" stroke-width="2.0" stroke-linecap="butt"/>
<line x1="73.3" y1="700" x2="79" y2="700" stroke="#0a0a0a" stroke-width="2.0" stroke-linecap="butt"/>
<line x1="189.5" y1="738.5475327059903" x2="189.5" y2="742.9475327059903" stroke="#0a0a0a" stroke-width="2.0" stroke-linecap="butt"/>
<line x1="296.8" y1="738.30126233647" x2="296.8" y2="742.70126233647" stroke="#0a0a0a" stroke-width="2.0" stroke-linecap="butt"/>
<line x1="407" y1="738.0483360110167" x2="407" y2="742.4483360110166" stroke="#0a0a0a" stroke-width="2.0" stroke-linecap="butt"/>
<text x="63.2" y="431.6" font-size="25" text-anchor="end" font-family='"Liberation Serif", serif' font-weight="normal" fill="#0a0a0a" >80</text>
<text x="63.2" y="509.9" font-size="25" text-anchor="end" font-family='"Liberation Serif", serif' font-weight="normal" fill="#0a0a0a" >60</text>
<text x="63.2" y="589.0" font-size="25" text-anchor="end" font-family='"Liberation Serif", serif' font-weight="normal" fill="#0a0a0a" >40</text>
<text x="63.2" y="667.8" font-size="25" text-anchor="end" font-family='"Liberation Serif", serif' font-weight="normal" fill="#0a0a0a" >20</text>
<text x="65.0" y="744.7" font-size="25" text-anchor="end" font-family='"Liberation Serif", serif' font-weight="normal" fill="#0a0a0a" >0</text>
<text x="135.4" y="779.4" font-size="25" text-anchor="middle" font-family='"Liberation Serif", serif' font-weight="normal" fill="#0a0a0a" >0</text>
<text x="243.6" y="778.8" font-size="25" text-anchor="middle" font-family='"Liberation Serif", serif' font-weight="normal" fill="#0a0a0a" >6</text>
<text x="355.2" y="778.5" font-size="25" text-anchor="middle" font-family='"Liberation Serif", serif' font-weight="normal" fill="#0a0a0a" >12</text>
<text x="462.9" y="778.4" font-size="25" text-anchor="middle" font-family='"Liberation Serif", serif' font-weight="normal" fill="#0a0a0a" >24</text>
<text x="88.0" y="460.8" font-size="28.5" text-anchor="start" font-family='"Liberation Serif", serif' font-weight="normal" fill="#0a0a0a" textLength="64" lengthAdjust="spacingAndGlyphs">CEM</text>
<text x="219.6" y="810.7" font-size="28.5" text-anchor="start" font-family='"Liberation Serif", serif' font-weight="normal" fill="#0a0a0a" >Time</text>
<text x="286.4" y="810.0" font-size="28.5" text-anchor="start" font-family='"Liberation Serif", serif' font-weight="normal" fill="#0a0a0a" textLength="85.2" lengthAdjust="spacingAndGlyphs" transform="rotate(-0.4 287 810)">(hours)</text>
<g transform="translate(23.9 698.1) rotate(-90)" font-size="28.5" font-family='"Liberation Serif", serif' fill="#0a0a0a">
<text x="0" y="0" textLength="113.6" lengthAdjust="spacingAndGlyphs">Apoptotic</text>
<text x="122.4" y="0">cells</text>
<text x="181.8" y="0">(%)</text>
</g>
<text x="1.2" y="433.5" font-size="25.5" text-anchor="start" font-family='"Liberation Sans", sans-serif' font-weight="bold" fill="#0a0a0a" >B</text>
</svg>
</body></html>
